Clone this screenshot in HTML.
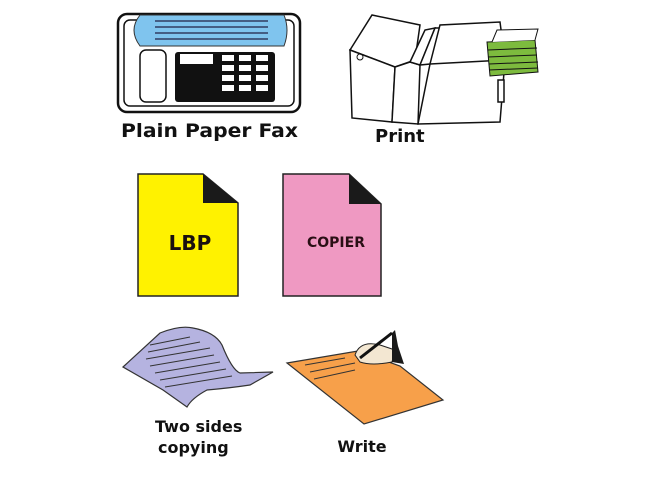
<!DOCTYPE html>
<html><head><style>body{margin:0;background:#fff}svg{display:block}</style></head><body>
<svg width="650" height="480" viewBox="0 0 650 480" xmlns="http://www.w3.org/2000/svg" font-family="Liberation Sans, sans-serif" font-weight="bold">
<rect width="650" height="480" fill="#fff"/>
<!-- Fax -->
<rect x="118" y="14" width="182" height="98" rx="9" fill="#fff" stroke="#111" stroke-width="2.5"/>
<rect x="124" y="20" width="170" height="86" rx="6" fill="#fff" stroke="#111" stroke-width="1.5"/>
<rect x="140" y="50" width="26" height="52" rx="6" fill="#fff" stroke="#111" stroke-width="1.5"/>
<rect x="175" y="52" width="100" height="50" rx="3" fill="#111"/>
<rect x="180" y="54" width="33" height="10" fill="#fff"/>
<g fill="#fff">
<rect x="222" y="55" width="12" height="6"/><rect x="239" y="55" width="12" height="6"/><rect x="256" y="55" width="12" height="6"/>
<rect x="222" y="65" width="12" height="6"/><rect x="239" y="65" width="12" height="6"/><rect x="256" y="65" width="12" height="6"/>
<rect x="222" y="75" width="12" height="6"/><rect x="239" y="75" width="12" height="6"/><rect x="256" y="75" width="12" height="6"/>
<rect x="222" y="85" width="12" height="6"/><rect x="239" y="85" width="12" height="6"/><rect x="256" y="85" width="12" height="6"/>
</g>
<path d="M140 15 L284 15 Q290 30 284 46 L140 46 Q128 30 140 15Z" fill="#7fc4ee" stroke="#333" stroke-width="1"/>
<g stroke="#224" stroke-width="1.3"><line x1="155" y1="21" x2="268" y2="21"/><line x1="155" y1="27" x2="268" y2="27"/><line x1="155" y1="33" x2="268" y2="33"/><line x1="155" y1="39" x2="268" y2="39"/></g>
<text x="121" y="137" font-size="19" fill="#111" font-family="DejaVu Sans, sans-serif" textLength="177" lengthAdjust="spacingAndGlyphs">Plain Paper Fax</text>
<!-- Print machine -->
<g fill="#fff" stroke="#111" stroke-width="1.5">
<path d="M350 50 L372 15 L420 25 L415 60 L395 67 Z"/>
<path d="M350 50 L395 67 L392 122 L352 118 Z"/>
<path d="M395 67 L410 62 L420 65 L418 124 L392 122Z"/>
<path d="M410 62 L425 30 L435 28 L420 65Z"/>
<path d="M420 65 L435 28 L443 28 L430 64Z"/>
<path d="M430 64 L440 25 L500 22 L505 60 L500 122 L418 124Z"/>
<line x1="430" y1="64" x2="505" y2="60"/>
<rect x="498" y="80" width="6" height="22"/>
</g>
<circle cx="360" cy="57" r="3" fill="none" stroke="#111"/>
<path d="M487 42 L535 40 L538 72 L490 76 Z" fill="#7dbb3e" stroke="#111"/>
<g stroke="#111" stroke-width="1"><line x1="488" y1="50" x2="537" y2="48"/><line x1="488" y1="57" x2="537" y2="55"/><line x1="489" y1="64" x2="538" y2="62"/><line x1="489" y1="70" x2="538" y2="68"/><path d="M492 42 L497 30 L538 29 L535 40" fill="#fff"/></g>
<text x="375" y="142" font-size="18" fill="#111" font-family="DejaVu Sans, sans-serif">Print</text>
<!-- LBP -->
<path d="M138 174 L203 174 L238 203 L238 296 L138 296Z" fill="#fff200" stroke="#222" stroke-width="1.5"/>
<path d="M203 174 L238 203 L203 203Z" fill="#1a1a1a"/>
<text x="190" y="250" font-size="20" text-anchor="middle" fill="#1a0f0f" font-family="DejaVu Sans, sans-serif">LBP</text>
<!-- COPIER -->
<path d="M283 174 L349 174 L381 204 L381 296 L283 296Z" fill="#ef99c2" stroke="#222" stroke-width="1.5"/>
<path d="M349 174 L381 204 L349 204Z" fill="#1a1a1a"/>
<text x="336" y="247" font-size="14" text-anchor="middle" fill="#2a0f15" font-family="DejaVu Sans, sans-serif">COPIER</text>
<!-- Two sides -->
<path d="M123 367 L160 333 Q180 325 193 328 Q215 332 222 345 Q232 370 240 373 L273 372 L250 385 Q230 388 207 390 Q192 398 187 407 Q170 395 163 390 Z" fill="#b5b3e0" stroke="#333" stroke-width="1.2"/>
<g stroke="#333" stroke-width="1"><line x1="150" y1="345" x2="190" y2="337"/><line x1="148" y1="352" x2="200" y2="342"/><line x1="146" y1="359" x2="210" y2="348"/><line x1="150" y1="366" x2="214" y2="355"/><line x1="155" y1="373" x2="220" y2="362"/><line x1="160" y1="380" x2="226" y2="369"/><line x1="165" y1="387" x2="232" y2="376"/></g>
<text x="155" y="432" font-size="16" fill="#111" font-family="DejaVu Sans, sans-serif">Two sides</text>
<text x="158" y="453" font-size="16" fill="#111" font-family="DejaVu Sans, sans-serif">copying</text>
<!-- Write -->
<path d="M287 363 L358 351 L400 366 L443 400 L364 424 Z" fill="#f7a04a" stroke="#333" stroke-width="1.2"/>
<g stroke="#333" stroke-width="1"><line x1="305" y1="365" x2="345" y2="358"/><line x1="310" y1="372" x2="355" y2="363"/><line x1="314" y1="379" x2="355" y2="370"/></g>
<path d="M355 355 Q360 340 380 345 L395 350 L392 362 Q372 366 360 362Z" fill="#f3e7d2" stroke="#222"/>
<path d="M392 333 L395 330 L398 346 L404 364 L392 362Z" fill="#1a1a1a"/>
<line x1="360" y1="358" x2="392" y2="333" stroke="#111" stroke-width="3"/>
<text x="362" y="452" font-size="16" text-anchor="middle" fill="#111" font-family="DejaVu Sans, sans-serif">Write</text>
</svg>
</body></html>
